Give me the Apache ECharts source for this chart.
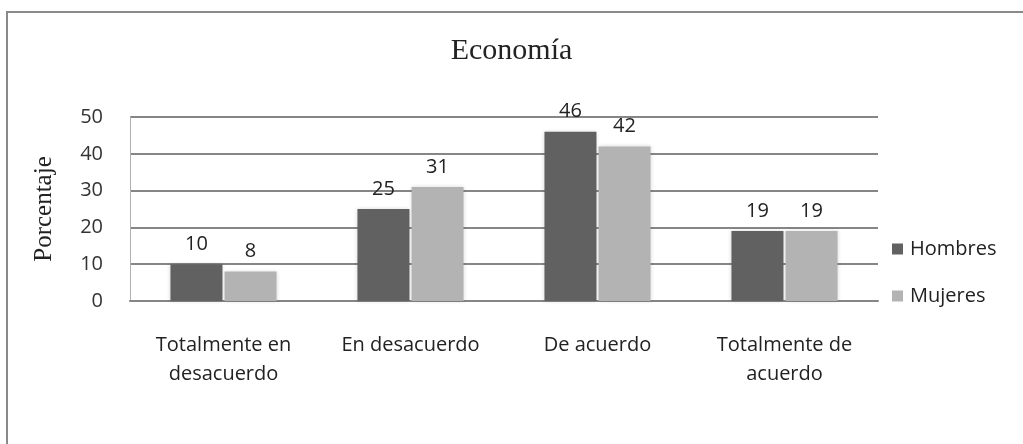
<!DOCTYPE html>
<html>
<head>
<meta charset="utf-8">
<script src="https://cdn.jsdelivr.net/npm/echarts@6/dist/echarts.min.js"></script>
<style>
  html, body { margin: 0; padding: 0; background: #fff; }
  #frame { position: absolute; left: 6px; top: 11px; width: 1017px; height: 433px;
           border-left: 2px solid #8a8a8a; border-top: 2px solid #8a8a8a; }
  #chart { position: absolute; left: 0; top: 0; width: 1023px; height: 444px; }
</style>
</head>
<body>
<div id="frame"></div>
<div id="chart"></div>
<script>
const CATEGORIES = ["Totalmente en\ndesacuerdo", "En desacuerdo", "De acuerdo", "Totalmente de\nacuerdo"];
const HOMBRES = [10, 25, 46, 19];
const MUJERES = [8, 31, 42, 19];
const SERIES_NAMES = ["Hombres", "Mujeres"];

const SANS = "'Open Sans', 'Liberation Sans', sans-serif";
const SERIF = "'Liberation Serif', 'DejaVu Serif', serif";

const chart = echarts.init(document.getElementById("chart"), null, { renderer: "canvas" });

const labelStyle = {
  show: true,
  position: "top",
  distance: 10,
  color: "#222",
  fontFamily: SANS,
  fontSize: 20,
};

chart.setOption({
  backgroundColor: "transparent",
  animation: false,
  title: {
    text: "Economía",
    left: "center",
    top: 31,
    textStyle: { fontFamily: SERIF, fontWeight: "normal", fontSize: 30, color: "#222" },
  },
  legend: {
    data: SERIES_NAMES,
    orient: "vertical",
    left: 887,
    top: 234,
    itemGap: 27,
    itemWidth: 11,
    itemHeight: 11,
    icon: "rect",
    textStyle: { fontFamily: SANS, fontSize: 20, color: "#222", padding: [0, 0, 0, 2] },
  },
  grid: { left: 130, right: 145, top: 117, bottom: 143 },
  xAxis: {
    type: "category",
    data: CATEGORIES,
    axisLine: { lineStyle: { color: "#868686", width: 2 } },
    axisTick: { show: false },
    axisLabel: {
      color: "#222",
      fontFamily: SANS,
      fontSize: 20,
      margin: 30,
      lineHeight: 29,
      interval: 0,
    },
  },
  yAxis: {
    type: "value",
    min: 0,
    max: 50,
    interval: 10,
    name: "Porcentaje",
    nameLocation: "middle",
    nameGap: 73,
    nameTextStyle: { fontFamily: SERIF, fontSize: 25, color: "#222" },
    axisLine: { show: true, lineStyle: { color: "#b0b0b0", width: 1 } },
    axisTick: { show: false },
    axisLabel: { color: "#333", fontFamily: SANS, fontSize: 20, margin: 27 },
    splitLine: { lineStyle: { color: "#868686", width: 2 } },
  },
  series: [
    {
      name: SERIES_NAMES[0],
      type: "bar",
      data: HOMBRES,
      barWidth: 52,
      barGap: "4%",
      itemStyle: { color: "#616161", shadowColor: "rgba(0,0,0,0.15)", shadowBlur: 4 },
      label: labelStyle,
    },
    {
      name: SERIES_NAMES[1],
      type: "bar",
      data: MUJERES,
      barWidth: 52,
      itemStyle: { color: "#b3b3b3", shadowColor: "rgba(0,0,0,0.15)", shadowBlur: 4 },
      label: labelStyle,
    },
  ],
});
</script>
</body>
</html>
